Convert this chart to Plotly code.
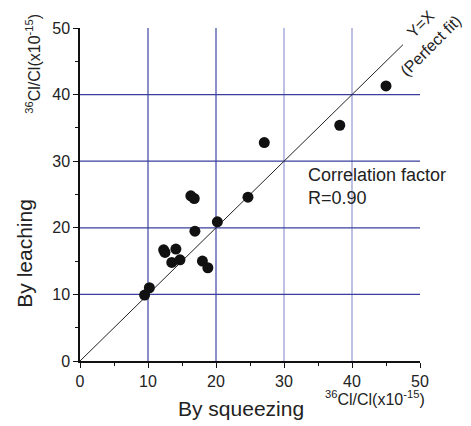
import plotly.graph_objects as go

squeezing = [45.0, 38.2, 27.1, 16.3, 16.8, 24.7, 20.2, 16.9, 12.3, 12.5, 14.1, 13.5, 14.7, 18.0, 18.8, 10.2, 9.5]
leaching = [41.3, 35.4, 32.8, 24.8, 24.4, 24.6, 20.9, 19.5, 16.7, 16.3, 16.8, 14.8, 15.2, 15.0, 14.0, 11.0, 9.9]
fit_line = [0, 47.5]
tick_vals = [0, 10, 20, 30, 40, 50]
hgrid_vals = [10, 20, 30, 40]
vgrid_vals = [10, 20, 30, 40]
vgrid_colors = ["#3f45a3", "#3f45a3", "#9396d6", "#9396d6"]
hgrid_color = "#3a3f9c"

fig = go.Figure()
fig.add_trace(go.Scatter(x=fit_line, y=fit_line, mode="lines",
                         line=dict(color="#222222", width=1), hoverinfo="skip"))
fig.add_trace(go.Scatter(x=squeezing, y=leaching, mode="markers",
                         marker=dict(color="#111111", size=11)))

for v, c in zip(vgrid_vals, vgrid_colors):
    fig.add_shape(type="line", xref="x", yref="y", x0=v, x1=v, y0=0, y1=50,
                  line=dict(color=c, width=1.2), layer="below")
for v in hgrid_vals:
    fig.add_shape(type="line", xref="x", yref="y", x0=0, x1=50, y0=v, y1=v,
                  line=dict(color=hgrid_color, width=1.2), layer="below")

axis_common = dict(range=[0, 50], tickvals=tick_vals, showgrid=False, zeroline=False,
                   showline=True, linecolor="#111111", linewidth=1.5,
                   ticks="outside", ticklen=5, tickcolor="#111111", tickwidth=1.2,
                   minor=dict(dtick=5, ticks="outside", ticklen=3, tickcolor="#111111"),
                   tickfont=dict(size=16, color="#222222"))

fig.update_layout(
    width=463, height=418, showlegend=False,
    margin=dict(l=72, r=51, t=13, b=65),
    plot_bgcolor="white", paper_bgcolor="white",
    font=dict(family="Liberation Sans, Arial, sans-serif", size=14, color="#222222"),
    xaxis=axis_common,
    yaxis=axis_common,
)

fig.add_annotation(text="By squeezing", xref="paper", yref="paper", x=0.474, y=-0.144,
                   xanchor="center", yanchor="middle", showarrow=False, font=dict(size=21))
fig.add_annotation(text="<sup>36</sup>Cl/Cl(x10<sup>-15</sup>)", xref="paper", yref="paper",
                   x=0.868, y=-0.112, xanchor="center", yanchor="middle", showarrow=False,
                   font=dict(size=16))
fig.add_annotation(text="By leaching", xref="paper", yref="paper", x=-0.162, y=0.325,
                   xanchor="center", yanchor="middle", showarrow=False, textangle=-90,
                   font=dict(size=21))
fig.add_annotation(text="<sup>36</sup>Cl/Cl(x10<sup>-15</sup>)", xref="paper", yref="paper",
                   x=-0.137, y=0.894, xanchor="center", yanchor="middle", showarrow=False,
                   textangle=-90, font=dict(size=16))
fig.add_annotation(text="Correlation factor<br>R=0.90", xref="paper", yref="paper",
                   x=0.664, y=0.524, xanchor="left", yanchor="middle", showarrow=False,
                   align="left", font=dict(size=18))
fig.add_annotation(text="Y=X", xref="paper", yref="paper", x=1.0, y=1.012,
                   xanchor="center", yanchor="middle", showarrow=False, textangle=-45,
                   font=dict(size=16))
fig.add_annotation(text="(Perfect fit)", xref="paper", yref="paper", x=1.033, y=0.946,
                   xanchor="center", yanchor="middle", showarrow=False, textangle=-45,
                   font=dict(size=16))

fig.write_html("out.html")
